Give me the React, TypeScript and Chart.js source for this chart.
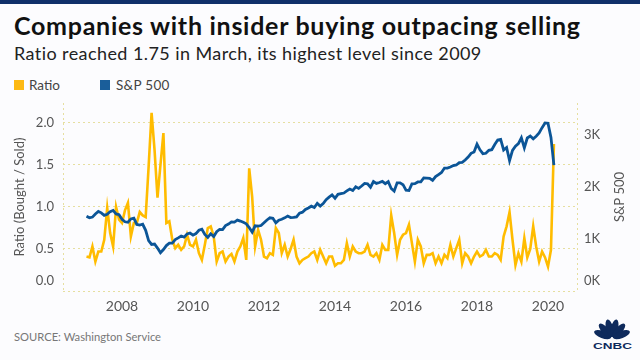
import React, { useEffect, useRef } from "react";
import { Chart, registerables } from "chart.js";

Chart.register(...registerables);

// Monthly data, Jan 2007 .. Mar 2020
const startYear = 2007;

const ratio = [
  0.41, 0.40, 0.53, 0.35, 0.47, 0.47, 0.61, 0.99, 0.69, 0.53, 1.00, 0.85,
  0.81, 0.96, 1.05, 0.65, 0.81, 0.81, 0.94, 0.90, 0.88, 1.48, 2.12, 1.68,
  1.11, 1.50, 1.88, 0.81, 0.83, 0.61, 0.51, 0.55, 0.49, 0.53, 0.67, 0.55,
  0.53, 0.61, 0.45, 0.37, 0.55, 0.75, 0.77, 0.65, 0.35, 0.45, 0.47, 0.35,
  0.41, 0.44, 0.35, 0.47, 0.53, 0.63, 0.37, 1.46, 1.12, 0.53, 0.73, 0.61,
  0.41, 0.39, 0.45, 0.43, 0.75, 0.69, 0.45, 0.55, 0.41, 0.50, 0.61, 0.41,
  0.33, 0.37, 0.39, 0.41, 0.45, 0.47, 0.37, 0.49, 0.41, 0.33, 0.41, 0.41,
  0.30, 0.33, 0.33, 0.37, 0.57, 0.41, 0.53, 0.47, 0.45, 0.45, 0.47, 0.55,
  0.43, 0.41, 0.45, 0.37, 0.55, 0.49, 0.49, 0.90, 0.69, 0.43, 0.61, 0.67,
  0.69, 0.79, 0.57, 0.35, 0.61, 0.53, 0.33, 0.43, 0.43, 0.45, 0.33, 0.41,
  0.33, 0.43, 0.39, 0.55, 0.41, 0.51, 0.61, 0.33, 0.45, 0.41, 0.33, 0.41,
  0.47, 0.41, 0.43, 0.49, 0.41, 0.41, 0.45, 0.43, 0.37, 0.65, 0.77, 0.94,
  0.61, 0.31, 0.45, 0.35, 0.63, 0.40, 0.50, 0.77, 0.53, 0.35, 0.47, 0.40,
  0.29, 0.49, 1.75,
];

const sp500 = [
  1438, 1407, 1421, 1482, 1531, 1503, 1455, 1474, 1527, 1549, 1481, 1468,
  1379, 1331, 1323, 1386, 1400, 1280, 1267, 1283, 1166, 969, 896, 903,
  826, 735, 798, 873, 919, 919, 987, 1021, 1057, 1036, 1096, 1115,
  1074, 1104, 1169, 1187, 1089, 1031, 1102, 1049, 1141, 1183, 1181, 1258,
  1286, 1327, 1326, 1364, 1345, 1321, 1292, 1219, 1131, 1253, 1247, 1258,
  1312, 1366, 1408, 1398, 1310, 1362, 1379, 1407, 1441, 1412, 1416, 1426,
  1498, 1515, 1569, 1598, 1631, 1606, 1686, 1633, 1682, 1757, 1806, 1848,
  1783, 1859, 1872, 1884, 1924, 1960, 1931, 2003, 1972, 2018, 2068, 2059,
  1995, 2105, 2068, 2086, 2107, 2063, 2104, 1972, 1920, 2079, 2080, 2044,
  1940, 1932, 2060, 2065, 2097, 2099, 2174, 2171, 2168, 2126, 2199, 2239,
  2279, 2364, 2363, 2384, 2412, 2423, 2470, 2472, 2519, 2575, 2648, 2674,
  2824, 2714, 2641, 2648, 2705, 2718, 2816, 2902, 2914, 2712, 2760, 2507,
  2704, 2784, 2834, 2946, 2752, 2942, 2980, 2926, 2977, 3038, 3141, 3231,
  3226, 2954, 2420,
];

const yearTicks = [2008, 2010, 2012, 2014, 2016, 2018, 2020];
const ratioTicks = [0, 0.5, 1.0, 1.5, 2.0];
const spTicks = [0, 1000, 2000, 3000];

const FONT = "Lato, 'Noto Sans', sans-serif";
const GRID = "#e6dfa0";
const TICK = "#555555";
const YELLOW = "#ffbc00";
const BLUE = "#0b5597";

const decorPlugin = {
  id: "decor",
  beforeDatasetsDraw(chart: any) {
    const { ctx, chartArea } = chart;
    const { left, right, top, bottom } = chartArea;
    ctx.save();
    ctx.strokeStyle = GRID;
    ctx.lineWidth = 1;
    ctx.setLineDash([2, 3]);
    ctx.beginPath();
    ctx.moveTo(Math.round(left) + 0.5, top);
    ctx.lineTo(Math.round(left) + 0.5, bottom);
    ctx.moveTo(Math.round(right) - 0.5, top);
    ctx.lineTo(Math.round(right) - 0.5, bottom);
    ctx.stroke();
    ctx.restore();
  },
  afterDraw(chart: any) {
    const { ctx, chartArea } = chart;
    const cy = (chartArea.top + chartArea.bottom) / 2;
    ctx.save();
    ctx.fillStyle = TICK;
    ctx.font = `13px ${FONT}`;
    ctx.textAlign = "center";
    ctx.textBaseline = "middle";
    const items: [number, string][] = [
      [20, "Ratio (Bought / Sold)"],
      [620, "S&P 500"],
    ];
    items.forEach(([x, t]) => {
      ctx.save();
      ctx.translate(x, cy);
      ctx.rotate(-Math.PI / 2);
      ctx.fillText(t, 0, 0);
      ctx.restore();
    });
    ctx.restore();
  },
};

export default function App() {
  const ref = useRef<HTMLCanvasElement | null>(null);

  useEffect(() => {
    if (!ref.current) return;
    const months = ratio.map((_, i) => startYear + i / 12);
    const chart = new Chart(ref.current, {
      type: "line",
      data: {
        datasets: [
          {
            label: "S&P 500",
            data: sp500.map((v, i) => ({ x: months[i], y: v })),
            yAxisID: "y1",
            borderColor: BLUE,
            borderWidth: 2.8,
            pointRadius: 0,
            tension: 0,
          },
          {
            label: "Ratio",
            data: ratio.map((v, i) => ({ x: months[i], y: v })),
            yAxisID: "y",
            borderColor: YELLOW,
            borderWidth: 2.6,
            pointRadius: 0,
            tension: 0,
          },
        ],
      },
      options: {
        responsive: true,
        maintainAspectRatio: false,
        animation: false,
        layout: { padding: { top: 103, left: 8, right: 0, bottom: 45 } },
        plugins: {
          legend: { display: false },
          tooltip: { enabled: false },
        },
        scales: {
          x: {
            type: "linear",
            min: 2006.338,
            max: 2020.845,
            afterBuildTicks: (s: any) => {
              s.ticks = yearTicks.map((value) => ({ value }));
            },
            afterFit: (s: any) => {
              s.height = 24;
            },
            ticks: {
              callback: (v: any) => String(v),
              font: { family: FONT, size: 14 },
              color: TICK,
              padding: 7,
              maxRotation: 0,
              autoSkip: false,
            },
            grid: { display: false, drawTicks: false },
            border: { display: false },
          },
          y: {
            position: "left",
            min: 0,
            max: 2.238,
            afterBuildTicks: (s: any) => {
              s.ticks = ratioTicks.map((value) => ({ value }));
            },
            afterFit: (s: any) => {
              s.width = 55;
            },
            ticks: {
              callback: (v: any) => (Number(v) === 0 ? ["0.0", ""] : Number(v).toFixed(1)),
              font: { family: FONT, size: 13, lineHeight: 1.5 },
              color: TICK,
              padding: 9,
            },
            grid: { color: GRID, drawTicks: false, lineWidth: 1 },
            border: { display: false, dash: [2, 3] },
          },
          y1: {
            position: "right",
            min: 0,
            max: 3615,
            afterBuildTicks: (s: any) => {
              s.ticks = spTicks.map((value) => ({ value }));
            },
            afterFit: (s: any) => {
              s.width = 62;
            },
            ticks: {
              callback: (v: any) => (Number(v) === 0 ? ["0K", ""] : `${Number(v) / 1000}K`),
              font: { family: FONT, size: 13, lineHeight: 1.5 },
              color: TICK,
              padding: 6,
            },
            grid: { display: false, drawTicks: false },
            border: { display: false },
          },
        },
      },
      plugins: [decorPlugin],
    });
    return () => chart.destroy();
  }, []);

  const text = (extra: React.CSSProperties): React.CSSProperties => ({
    position: "absolute",
    whiteSpace: "nowrap",
    lineHeight: 1,
    fontFamily: FONT,
    ...extra,
  });

  return (
    <div
      style={{
        position: "absolute",
        left: 0,
        top: 0,
        width: 640,
        height: 360,
        background: "#fcfcfe",
        overflow: "hidden",
      }}
    >
      <div style={{ position: "absolute", left: 0, top: 0, width: 640, height: 4, background: "#10306a" }} />
      <div style={text({ left: 14, top: 13, fontSize: 25, fontWeight: 700, color: "#111", letterSpacing: 0.72 })}>
        Companies with insider buying outpacing selling
      </div>
      <div style={text({ left: 14, top: 44, fontSize: 18, color: "#222", letterSpacing: 0.42 })}>
        Ratio reached 1.75 in March, its highest level since 2009
      </div>
      <div style={{ position: "absolute", left: 14, top: 80, width: 10, height: 10, background: "#fdb913" }} />
      <div style={text({ left: 29, top: 78.5, fontSize: 13.5, color: "#444" })}>Ratio</div>
      <div style={{ position: "absolute", left: 100, top: 80, width: 10, height: 10, background: "#1a5e9a" }} />
      <div style={text({ left: 116, top: 78.5, fontSize: 13.5, color: "#444", letterSpacing: 0.3 })}>S&amp;P 500</div>
      <div style={text({ left: 14, top: 331, fontSize: 11.2, color: "#777" })}>SOURCE: Washington Service</div>
      <svg
        style={{ position: "absolute", left: 590, top: 316 }}
        width={44}
        height={34}
        viewBox="0 0 44 34"
      >
        {[-70, -42, -14, 14, 42, 70].map((a) => (
          <ellipse
            key={a}
            cx={22}
            cy={12}
            rx={3.6}
            ry={9}
            fill="#0e2a5c"
            transform={`rotate(${a} 22 22)`}
          />
        ))}
        <text
          x={3}
          y={33}
          fontFamily="'Liberation Sans', Arial, sans-serif"
          fontWeight={900}
          fontSize={9.5}
          fill="#0e2a5c"
          textLength={39}
          lengthAdjust="spacingAndGlyphs"
        >
          CNBC
        </text>
      </svg>
      <canvas ref={ref} style={{ position: "absolute", left: 0, top: 0, width: 640, height: 360 }} />
    </div>
  );
}
